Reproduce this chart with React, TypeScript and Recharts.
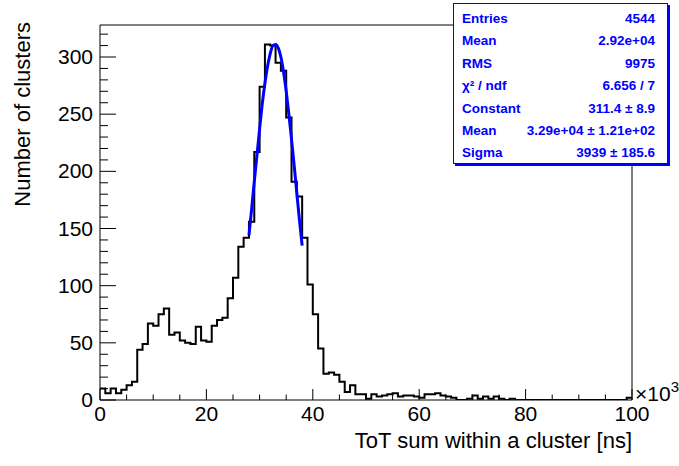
import React from "react";
import { ComposedChart, Line, XAxis, YAxis } from "recharts";

// ToT sum per cluster, bins of 1000 ns from 0 to 100 x10^3 ns
const BIN_START = [
  0, 1, 2, 3, 4, 5, 6, 7, 8, 9, 10, 11, 12, 13, 14, 15, 16, 17, 18, 19,
  20, 21, 22, 23, 24, 25, 26, 27, 28, 29, 30, 31, 32, 33, 34, 35, 36, 37, 38, 39,
  40, 41, 42, 43, 44, 45, 46, 47, 48, 49, 50, 51, 52, 53, 54, 55, 56, 57, 58, 59,
  60, 61, 62, 63, 64, 65, 66, 67, 68, 69, 70, 71, 72, 73, 74, 75, 76, 77, 78, 79,
  80, 81, 82, 83, 84, 85, 86, 87, 88, 89, 90, 91, 92, 93, 94, 95, 96, 97, 98, 99,
];

const COUNTS = [
  10, 6, 10, 6, 9, 13, 16, 44, 49, 67, 65, 75, 80, 57, 59, 52, 50, 49, 64, 52,
  51, 65, 70, 72, 89, 107, 134, 142, 156, 217, 274, 311, 310, 295, 288, 247, 191, 178, 142, 101,
  75, 45, 23, 24, 22, 16, 7, 13, 5, 5, 1, 5, 3, 4, 5, 6, 3, 4, 4, 3,
  2, 5, 5, 6, 4, 3, 2, 0, 0, 1, 4, 1, 3, 1, 3, 1, 0, 1, 0, 0,
  0, 0, 0, 0, 0, 0, 0, 0, 0, 0, 0, 0, 0, 0, 0, 0, 0, 0, 0, 2,
];

// gaus fit curve (28 - 38 x10^3 ns)
const FIT_X = [28, 28.5, 29, 29.5, 30, 30.5, 31, 31.5, 32, 32.5, 33, 33.5, 34, 34.5, 35, 35.5, 36, 36.5, 37, 37.5, 38];
const FIT_Y = [144, 167, 191, 214, 237, 259, 277, 292, 303, 310, 311, 308, 300, 287, 270, 250, 228, 205, 181, 157, 135];

const X_TICKS = [0, 5, 10, 15, 20, 25, 30, 35, 40, 45, 50, 55, 60, 65, 70, 75, 80, 85, 90, 95, 100];
const Y_TICKS = [0, 10, 20, 30, 40, 50, 60, 70, 80, 90, 100, 110, 120, 130, 140, 150, 160, 170, 180, 190, 200, 210, 220, 230, 240, 250, 260, 270, 280, 290, 300, 310, 320];

const STAT_LABELS = ["Entries", "Mean", "RMS", "χ² / ndf", "Constant", "Mean", "Sigma"];
const STAT_VALUES = ["4544", "2.92e+04", "9975", "6.656 / 7", "311.4 ± 8.9", "3.29e+04 ± 1.21e+02", "3939 ± 185.6"];

const histData = BIN_START.map((x, i) => ({ x, y: COUNTS[i] }));
histData.push({ x: 100, y: COUNTS[COUNTS.length - 1] });

const fitData = FIT_X.map((x, i) => ({ x, y: FIT_Y[i] }));

const FONT = "'Liberation Sans', Arial, Helvetica, sans-serif";
const BLUE = "#0000ff";

const W = 679;
const H = 466;

function BottomTick(props: any) {
  const { x, y, payload } = props;
  const major = payload.value % 20 === 0;
  return (
    <g>
      <line x1={x} x2={x} y1={y} y2={y - (major ? 11 : 5.5)} stroke="#000" />
      {major && (
        <text x={x} y={y + 21} textAnchor="middle" fontSize={21} fontFamily={FONT} fill="#000">
          {payload.value}
        </text>
      )}
    </g>
  );
}

function TopTick(props: any) {
  const { x, y, payload } = props;
  const major = payload.value % 20 === 0;
  return <line x1={x} x2={x} y1={y} y2={y + (major ? 11 : 5.5)} stroke="#000" />;
}

function LeftTick(props: any) {
  const { x, y, payload } = props;
  const major = payload.value % 50 === 0;
  return (
    <g>
      <line x1={x} x2={x + (major ? 16 : 8)} y1={y} y2={y} stroke="#000" />
      {major && (
        <text x={x - 7} y={y + 7} textAnchor="end" fontSize={21} fontFamily={FONT} fill="#000">
          {payload.value}
        </text>
      )}
    </g>
  );
}

function RightTick(props: any) {
  const { x, y, payload } = props;
  const major = payload.value % 50 === 0;
  return <line x1={x} x2={x - (major ? 16 : 8)} y1={y} y2={y} stroke="#000" />;
}

export default function App() {
  return (
    <div style={{ position: "absolute", left: 0, top: 0, width: W, height: H, background: "#fff" }}>
      <ComposedChart
        width={W}
        height={H}
        margin={{ top: 15, right: 37, bottom: 36, left: 40 }}
      >
        <XAxis
          dataKey="x"
          type="number"
          domain={[0, 100]}
          ticks={X_TICKS}
          interval={0}
          tickSize={0}
          tickMargin={0}
          height={30}
          tickLine={false}
          axisLine={{ stroke: "#000" }}
          tick={BottomTick}
          allowDataOverflow
        />
        <XAxis
          xAxisId="t"
          orientation="top"
          type="number"
          domain={[0, 100]}
          ticks={X_TICKS}
          interval={0}
          tickSize={0}
          tickMargin={0}
          height={10}
          tickLine={false}
          axisLine={{ stroke: "#000" }}
          tick={TopTick}
        />
        <YAxis
          type="number"
          domain={[0, 328]}
          ticks={Y_TICKS}
          interval={0}
          tickSize={0}
          tickMargin={0}
          width={60}
          tickLine={false}
          axisLine={{ stroke: "#000" }}
          tick={LeftTick}
          allowDataOverflow
        />
        <YAxis
          yAxisId="r"
          orientation="right"
          type="number"
          domain={[0, 328]}
          ticks={Y_TICKS}
          interval={0}
          tickSize={0}
          tickMargin={0}
          width={10}
          tickLine={false}
          axisLine={{ stroke: "#000" }}
          tick={RightTick}
        />
        <Line
          data={histData}
          dataKey="y"
          type="stepAfter"
          stroke="#000"
          strokeWidth={2}
          dot={false}
          activeDot={false}
          isAnimationActive={false}
        />
        <Line
          data={fitData}
          dataKey="y"
          type="monotone"
          stroke={BLUE}
          strokeWidth={3}
          dot={false}
          activeDot={false}
          isAnimationActive={false}
        />
        <text x={635} y={401} fontSize={21} fontFamily={FONT} fill="#000">
          ×10
          <tspan dy={-9} fontSize={15}>3</tspan>
        </text>
        <text x={632} y={448} textAnchor="end" fontSize={22} fontFamily={FONT} fill="#000">
          ToT sum within a cluster [ns]
        </text>
        <text
          x={30}
          y={22}
          textAnchor="end"
          fontSize={22}
          fontFamily={FONT}
          fill="#000"
          transform="rotate(-90, 30, 22)"
        >
          Number of clusters
        </text>
      </ComposedChart>

      <div
        style={{
          position: "absolute",
          left: 453,
          top: 3,
          width: 215,
          height: 161,
          background: "#fff",
          border: `1.5px solid ${BLUE}`,
          boxShadow: `2px 2px 0 ${BLUE}`,
          fontFamily: FONT,
          fontWeight: "bold",
          fontSize: 13.5,
          color: BLUE,
          padding: "4px 12px 0 8px",
          boxSizing: "border-box",
        }}
      >
        {STAT_LABELS.map((label, i) => (
          <div
            key={i}
            style={{
              display: "flex",
              justifyContent: "space-between",
              height: 22.4,
              lineHeight: "22.4px",
            }}
          >
            <span>{label}</span>
            <span>{STAT_VALUES[i]}</span>
          </div>
        ))}
      </div>
    </div>
  );
}
